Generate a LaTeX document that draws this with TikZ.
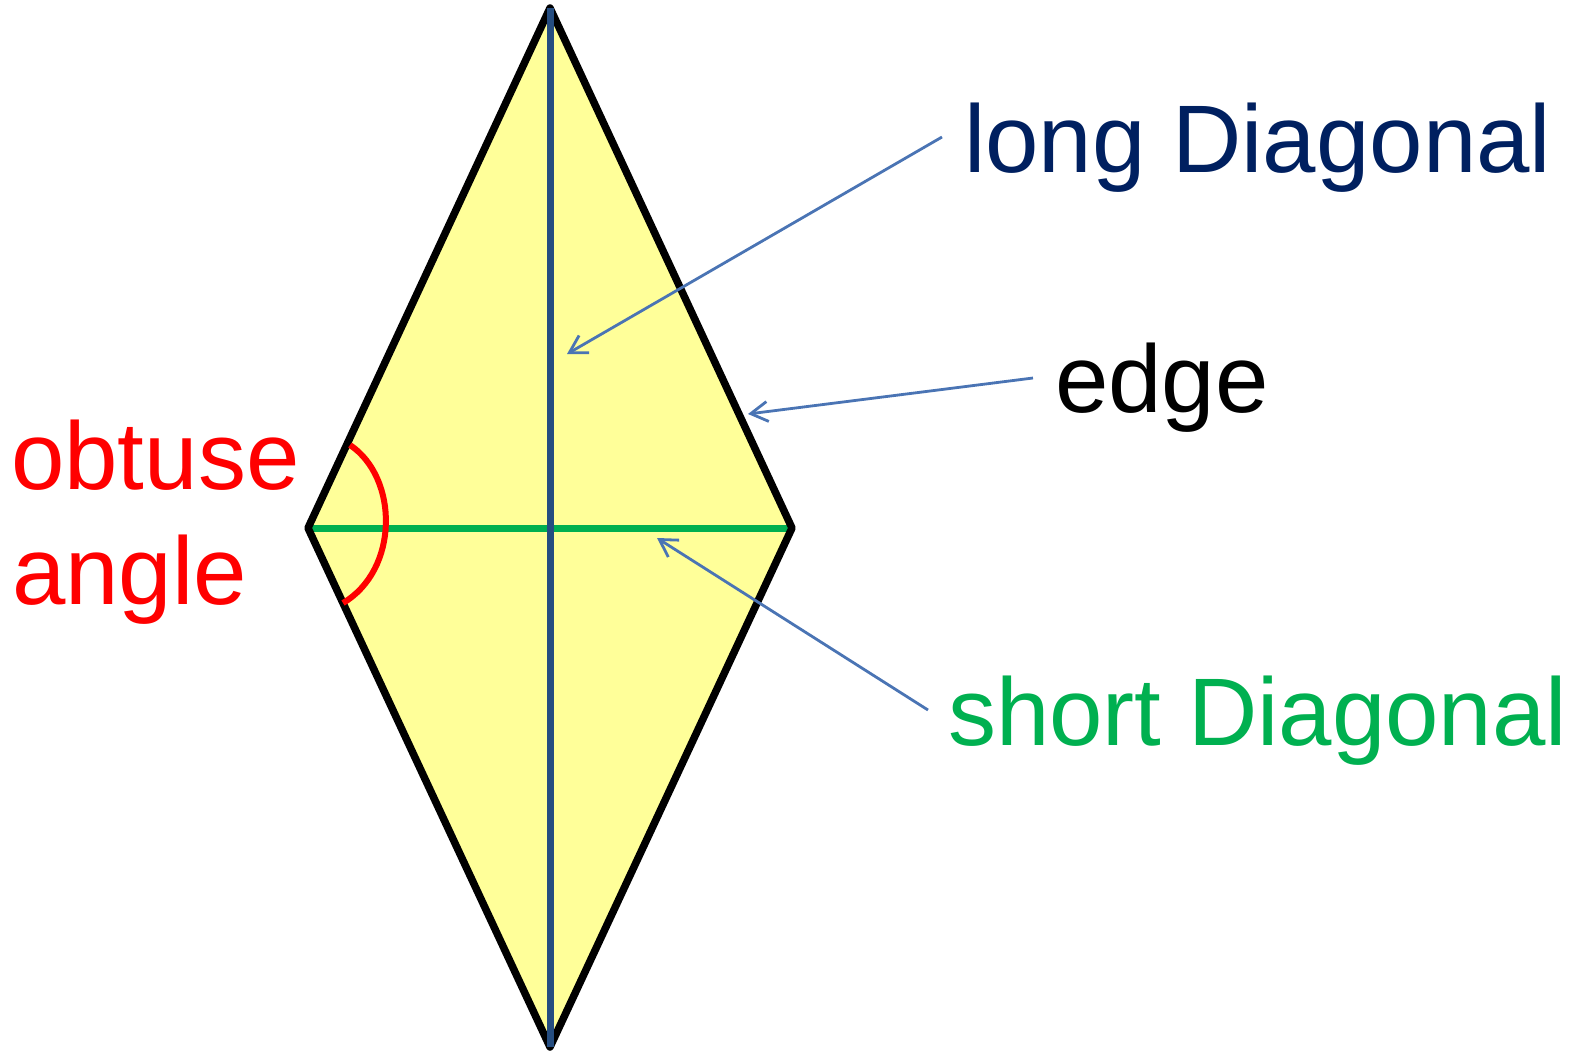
\documentclass[tikz,border=0pt]{standalone}
\usepackage{fontspec}
\setmainfont{Liberation Sans}
\usetikzlibrary{arrows.meta}
\definecolor{navy}{HTML}{002060}
\definecolor{grn}{HTML}{00B050}
\definecolor{ylw}{HTML}{FFFF99}
\definecolor{diagblue}{HTML}{254D80}
\definecolor{arrblue}{HTML}{4A74B4}
\tikzset{
  lbl/.style={inner sep=0pt, anchor=base west, font=\fontsize{96}{115}\selectfont},
  pointer/.style={draw=arrblue, line width=2.8pt, -{Straight Barb[length=17pt,width=20pt,line width=2.8pt]}},
}
\begin{document}
\begin{tikzpicture}[x=1pt,y=-1pt]
\useasboundingbox (0,0) rectangle (1570,1053);
\coordinate (T) at (550,8);
\coordinate (L) at (308,528);
\coordinate (R) at (792,528);
\coordinate (B) at (550,1047);
\fill[ylw] (T) -- (R) -- (B) -- (L) -- cycle;
\draw[grn, line width=7pt] (L) -- (R);
\draw[black, line width=7.5pt, line join=round] (T) -- (R) -- (B) -- (L) -- cycle;
\draw[diagblue, line width=7pt] (T) -- (B);
\coordinate (a1) at (350,445);
\coordinate (a2) at (343,603);
\draw[red, line width=6pt] (a1) .. controls (399,478) and (399,570) .. (a2);
% labels
\node[lbl, text=navy] (longd) at (964,172) {long Diagonal};
\node[lbl, text=black] (edge) at (1055,412) {edge};
\node[lbl, text=red] (obt) at (11,489) {obtuse};
\node[lbl, text=red] (ang) at (12,604) {angle};
\node[lbl, text=grn] (shortd) at (948,745) {short Diagonal};
% pointers
\coordinate (p1s) at (942,137);
\coordinate (p1e) at (567,354);
\coordinate (p2s) at (1033,378);
\coordinate (p2e) at (748,414);
\coordinate (p3s) at (928,710);
\coordinate (p3e) at (657,538);
\draw[pointer] (p1s) -- (p1e);
\draw[pointer] (p2s) -- (p2e);
\draw[pointer] (p3s) -- (p3e);
\end{tikzpicture}
\end{document}
